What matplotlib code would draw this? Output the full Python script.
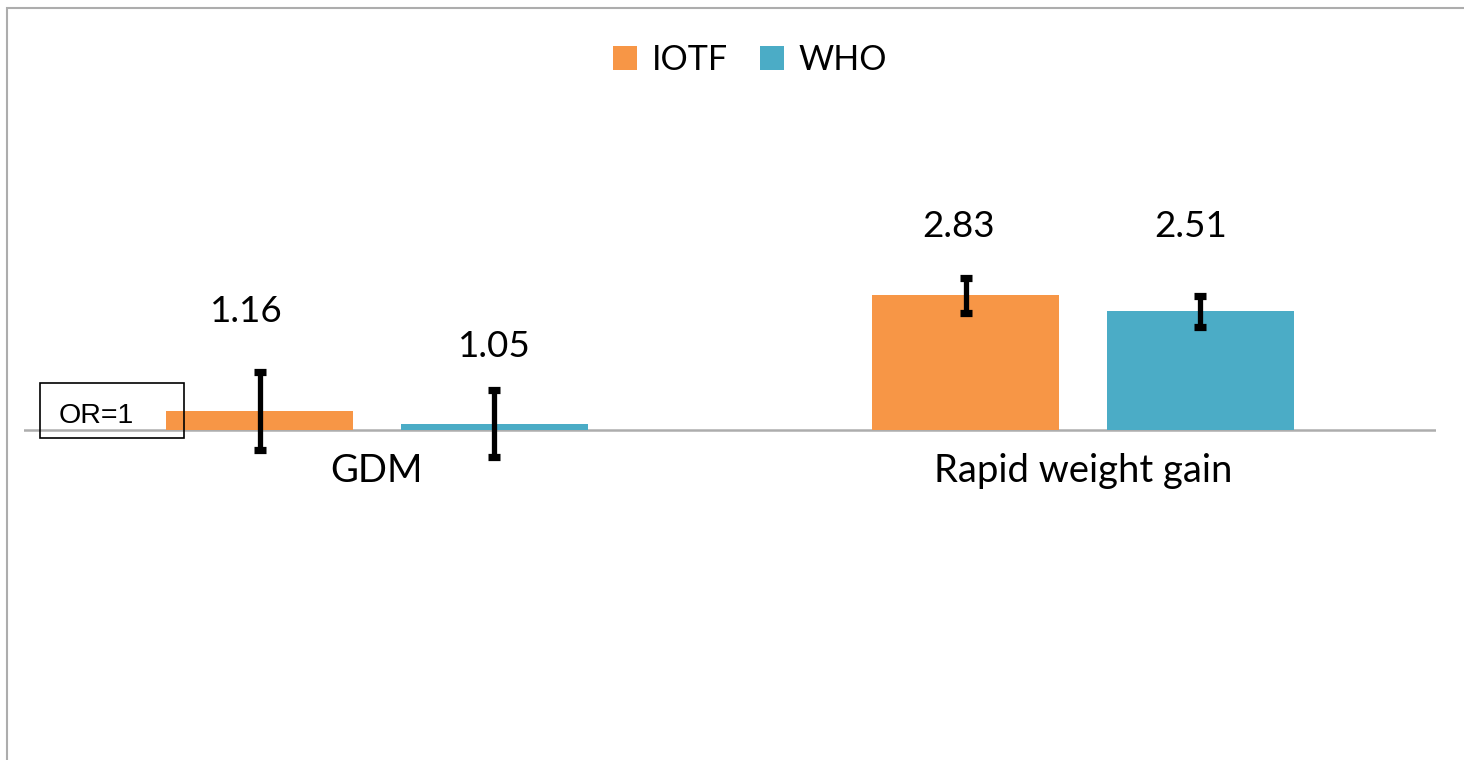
import matplotlib
matplotlib.use("Agg")
import matplotlib.pyplot as plt
from matplotlib.patches import Rectangle, Patch
from matplotlib.transforms import offset_copy, blended_transform_factory
import numpy as np

categories = ["GDM", "Rapid weight gain"]
series = ["IOTF", "WHO"]
iotf_or = [1.16, 2.83]
who_or = [1.05, 2.51]
iotf_lo = [0.86, 2.47]
iotf_hi = [1.57, 3.23]
who_lo = [0.81, 2.21]
who_hi = [1.36, 2.81]
label_text_iotf = ["1.16", "2.83"]
label_text_who = ["1.05", "2.51"]

ORANGE = "#F79646"
BLUE = "#4BACC6"
GREY = "#ADADAD"

W, H = 1464, 760
fig = plt.figure(figsize=(W / 100, H / 100), dpi=100)

def fx(px):
    return px / W

def fy(py):
    return 1 - py / H

# plot area: x 24..1436, y 132..728 (log 0.1..10)
ax = fig.add_axes([fx(24), fy(728), fx(1436) - fx(24), fy(132) - fy(728)])
ax.set_yscale("log")
ax.set_ylim(0.1, 10)
ax.set_xlim(-0.5, 1.5)
for s in ax.spines.values():
    s.set_visible(False)
ax.set_xticks([])
ax.set_yticks([])
ax.yaxis.set_minor_locator(matplotlib.ticker.NullLocator())
ax.patch.set_alpha(0)

x = np.arange(len(categories))
bw = 0.265
off = 0.1664
data = [(iotf_or, iotf_lo, iotf_hi, ORANGE, label_text_iotf, -off),
        (who_or, who_lo, who_hi, BLUE, label_text_who, off)]

ax.axhline(1, color=GREY, lw=1.8, zorder=1)

for vals, lo, hi, col, labs, o in data:
    xs = x + o
    v = np.array(vals)
    ax.bar(xs, v - 1, bottom=1, width=bw, color=col, zorder=2)
    yerr = np.array([v - np.array(lo), np.array(hi) - v])
    ax.errorbar(xs, v, yerr=yerr, fmt="none", ecolor="black",
                elinewidth=3.8, capsize=4.5, capthick=5.2, zorder=3)

# value labels: baselines (pixels from top)
label_base = {"1.16": 322, "1.05": 357, "2.83": 237, "2.51": 237}
label_dx = {"1.16": -0.018, "1.05": 0.0, "2.83": -0.010, "2.51": -0.014}
trans_lab = blended_transform_factory(ax.transData, fig.transFigure)
for vals, lo, hi, col, labs, o in data:
    for xi, t in zip(x + o, labs):
        ax.text(xi + label_dx[t], fy(label_base[t]), t, transform=trans_lab,
                ha="center", va="baseline", fontsize=26.5, family="Lato", color="black")

# category labels, baseline 52 px below the OR=1 axis line
cat_trans = offset_copy(ax.transData, fig=fig, x=0, y=-52, units="dots")
for xi, c in zip(x, categories):
    ax.text(xi, 1, c, transform=cat_trans, ha="center", va="baseline",
            fontsize=27.5, family="Lato", color="black")

# OR=1 box
fig.patches.append(Rectangle((fx(40), fy(438)), fx(184) - fx(40), fy(383) - fy(438),
                             transform=fig.transFigure, fill=False, edgecolor="black",
                             lw=1.2, zorder=5))
fig.text(fx(59), fy(423), "OR=1", ha="left", va="baseline", fontsize=20.5,
         family="Liberation Sans", color="black")

# outer chart border
fig.patches.append(Rectangle((fx(7.5), fy(800)), fx(1600), fy(7.5) - fy(800),
                             transform=fig.transFigure, fill=False, edgecolor=GREY,
                             lw=1.5, zorder=0))

handles = [Patch(facecolor=ORANGE, edgecolor="none"), Patch(facecolor=BLUE, edgecolor="none")]
fig.legend(handles, series, loc="center", bbox_to_anchor=(fx(750), fy(60)), ncol=2,
           frameon=False, prop={"family": "Lato", "size": 24.5},
           handlelength=0.72, handleheight=0.72, handletextpad=0.42, columnspacing=0.95)

fig.savefig("out.png", dpi=100)
